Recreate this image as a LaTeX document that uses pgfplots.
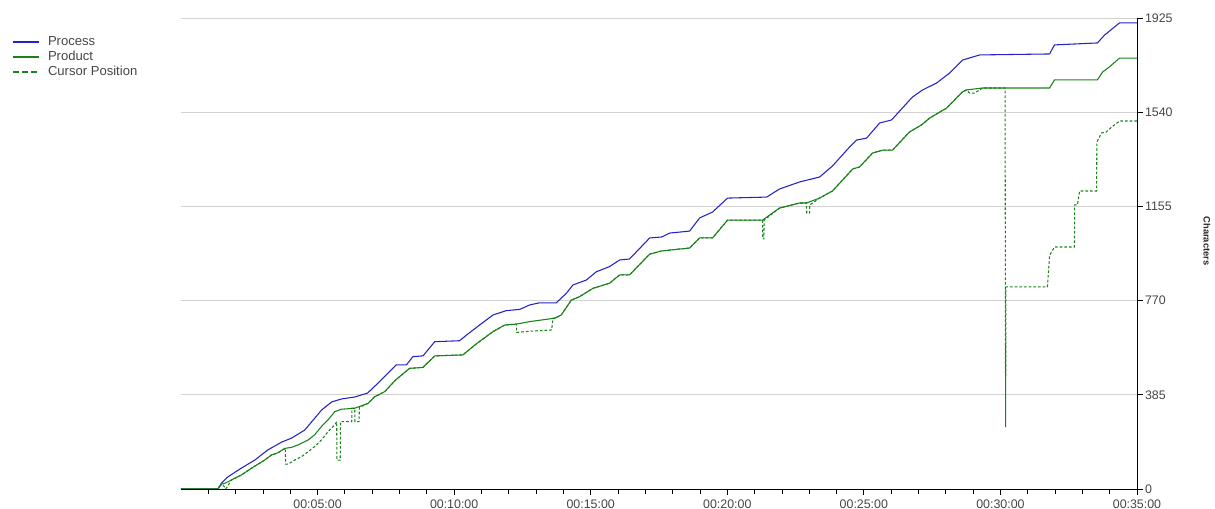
\documentclass[border=0pt]{standalone}
\usepackage{fontspec}
\setmainfont{Liberation Sans}
\usepackage{pgfplots}
\pgfplotsset{compat=1.18}
\definecolor{procblue}{RGB}{35,35,200}
\definecolor{prodgreen}{RGB}{25,130,25}
\definecolor{tickgray}{RGB}{70,70,70}
\begin{document}
\begin{tikzpicture}
\useasboundingbox (-135.75pt,-15pt) rectangle (775.5pt,366.75pt);
\begin{axis}[
  at={(0pt,0pt)}, anchor=south west,
  scale only axis, width=717pt, height=353.25pt,
  xmin=0, xmax=35, ymin=0, ymax=1925,
  axis x line=bottom, axis y line=right,
  x axis line style={-, black, line width=0.7pt},
  y axis line style={-, black, line width=0.7pt},
  xtick={5,10,15,20,25,30,35},
  xticklabels={00:05:00,00:10:00,00:15:00,00:20:00,00:25:00,00:30:00,00:35:00},
  minor xtick={1,2,3,4,6,7,8,9,11,12,13,14,16,17,18,19,21,22,23,24,26,27,28,29,31,32,33,34},
  ytick={0,385,770,1155,1540,1925},
  yticklabels={0,385,770,1155,1540,1925},
  tick align=outside,
  major tick length=4.5pt, minor tick length=3.5pt,
  every tick/.style={black, line width=0.6pt},
  ymajorgrids, grid style={gray!35, line width=0.6pt},
  /pgf/number format/assume math mode=true,
  tick label style={font=\fontsize{9.3}{11}\selectfont, text=tickgray},
  yticklabel style={xshift=-2pt},
  legend style={at={(-0.1768,0.965)}, anchor=north west, draw=none, fill=none,
    font=\fontsize{9.8}{11}\selectfont, text=tickgray, inner sep=0pt, row sep=0pt,
    nodes={inner sep=0.625pt, text height=7.5pt, text depth=2.5pt},
    /tikz/every odd column/.append style={column sep=5pt}},
  legend cell align=left,
  legend image code/.code={\draw[#1, line width=1.7pt] (0pt,0pt) -- (19.5pt,0pt);},
]
\addplot[procblue, line width=0.8pt] table {
0 0
1.35 0
1.49 25
1.71 49
2.22 86
2.70 118
3.17 159
3.69 192
4.05 208
4.53 241
5.15 323
5.52 356
5.88 368
6.36 376
6.83 392
7.30 442
7.88 507
8.25 507
8.49 541
8.86 544
9.29 602
10.20 606
10.45 629
10.93 670
11.42 711
11.91 729
12.40 734
12.76 752
13.13 761
13.74 761
14.11 800
14.35 834
14.84 854
15.21 888
15.69 909
16.06 936
16.42 940
17.16 1026
17.60 1030
17.89 1046
18.62 1054
18.99 1108
19.46 1132
20.01 1189
21.44 1193
21.91 1226
22.65 1255
23.38 1275
23.85 1320
24.48 1398
24.73 1426
25.10 1434
25.58 1496
26.01 1508
26.78 1602
27.15 1631
27.66 1659
28.14 1700
28.61 1753
29.24 1774
31.80 1778
31.98 1815
33.55 1823
33.81 1855
34.36 1905
35 1905
};
\addlegendentry{Process}
\addplot[prodgreen, line width=0.8pt] table {
0 0
1.35 0
1.49 20
1.64 25
1.85 37
2.21 57
2.58 85
3.06 118
3.31 139
3.55 148
3.80 166
4.04 170
4.28 180
4.65 200
4.89 221
5.14 255
5.38 282
5.63 316
5.87 326
6.36 330
6.85 350
7.09 377
7.46 398
7.85 445
8.37 493
8.86 497
9.29 544
10.32 548
10.81 593
11.42 643
11.85 670
12.28 674
12.76 684
13.68 698
13.92 711
14.29 772
14.59 786
15.08 820
15.69 841
16.06 875
16.42 875
17.16 960
17.60 973
18.62 985
18.99 1026
19.46 1026
20.01 1099
21.29 1099
21.91 1148
22.65 1169
22.90 1169
23.38 1189
23.85 1218
24.29 1271
24.59 1308
24.84 1316
25.32 1373
25.69 1385
26.05 1385
26.67 1459
27.11 1488
27.41 1516
28.03 1557
28.61 1623
28.76 1631
29.35 1639
31.80 1639
31.98 1672
33.55 1672
33.74 1704
33.99 1725
34.36 1761
35 1761
};
\addlegendentry{Product}
\addplot[prodgreen, line width=0.8pt, dash pattern=on 2pt off 1.5pt,
  legend image post style={dash pattern=on 4.5pt off 2.25pt}] table {
0 0
1.35 0
1.49 25
1.64 0
1.85 37
2.21 57
2.58 85
3.06 118
3.31 139
3.55 148
3.82 166
3.83 102
3.92 102
4.16 118
4.41 132
4.65 152
4.89 173
5.14 200
5.38 234
5.63 262
5.70 275
5.71 118
5.83 118
5.84 275
6.25 275
6.26 330
6.36 330
6.37 275
6.52 275
6.53 333
6.85 350
7.09 377
7.46 398
7.85 445
8.37 493
8.86 497
9.29 544
10.32 548
10.81 593
11.42 643
11.85 670
12.28 674
12.29 640
12.80 645
13.57 650
13.62 698
13.68 698
13.92 711
14.29 772
14.59 786
15.08 820
15.69 841
16.06 875
16.42 875
17.16 960
17.60 973
18.62 985
18.99 1026
19.46 1026
20.01 1099
21.29 1099
21.30 1022
21.34 1022
21.35 1099
21.91 1148
22.65 1169
22.90 1169
22.91 1128
23.01 1128
23.02 1161
23.38 1189
23.85 1218
24.29 1271
24.59 1308
24.84 1316
25.32 1373
25.69 1385
26.05 1385
26.67 1459
27.11 1488
27.41 1516
28.03 1557
28.61 1623
28.76 1631
28.87 1618
29.05 1618
29.24 1631
29.35 1639
30.17 1639
30.19 253
30.20 826
31.72 826
31.80 955
31.98 989
32.71 989
32.72 1161
32.82 1161
32.90 1218
33.52 1218
33.53 1418
33.70 1455
33.88 1459
34.07 1479
34.36 1504
35 1504
};
\addlegendentry{Cursor Position}
\end{axis}
\node[rotate=-90, font=\bfseries\fontsize{7}{8}\selectfont, text=black!85] at (769.5pt,186pt) {Characters};
\end{tikzpicture}
\end{document}
